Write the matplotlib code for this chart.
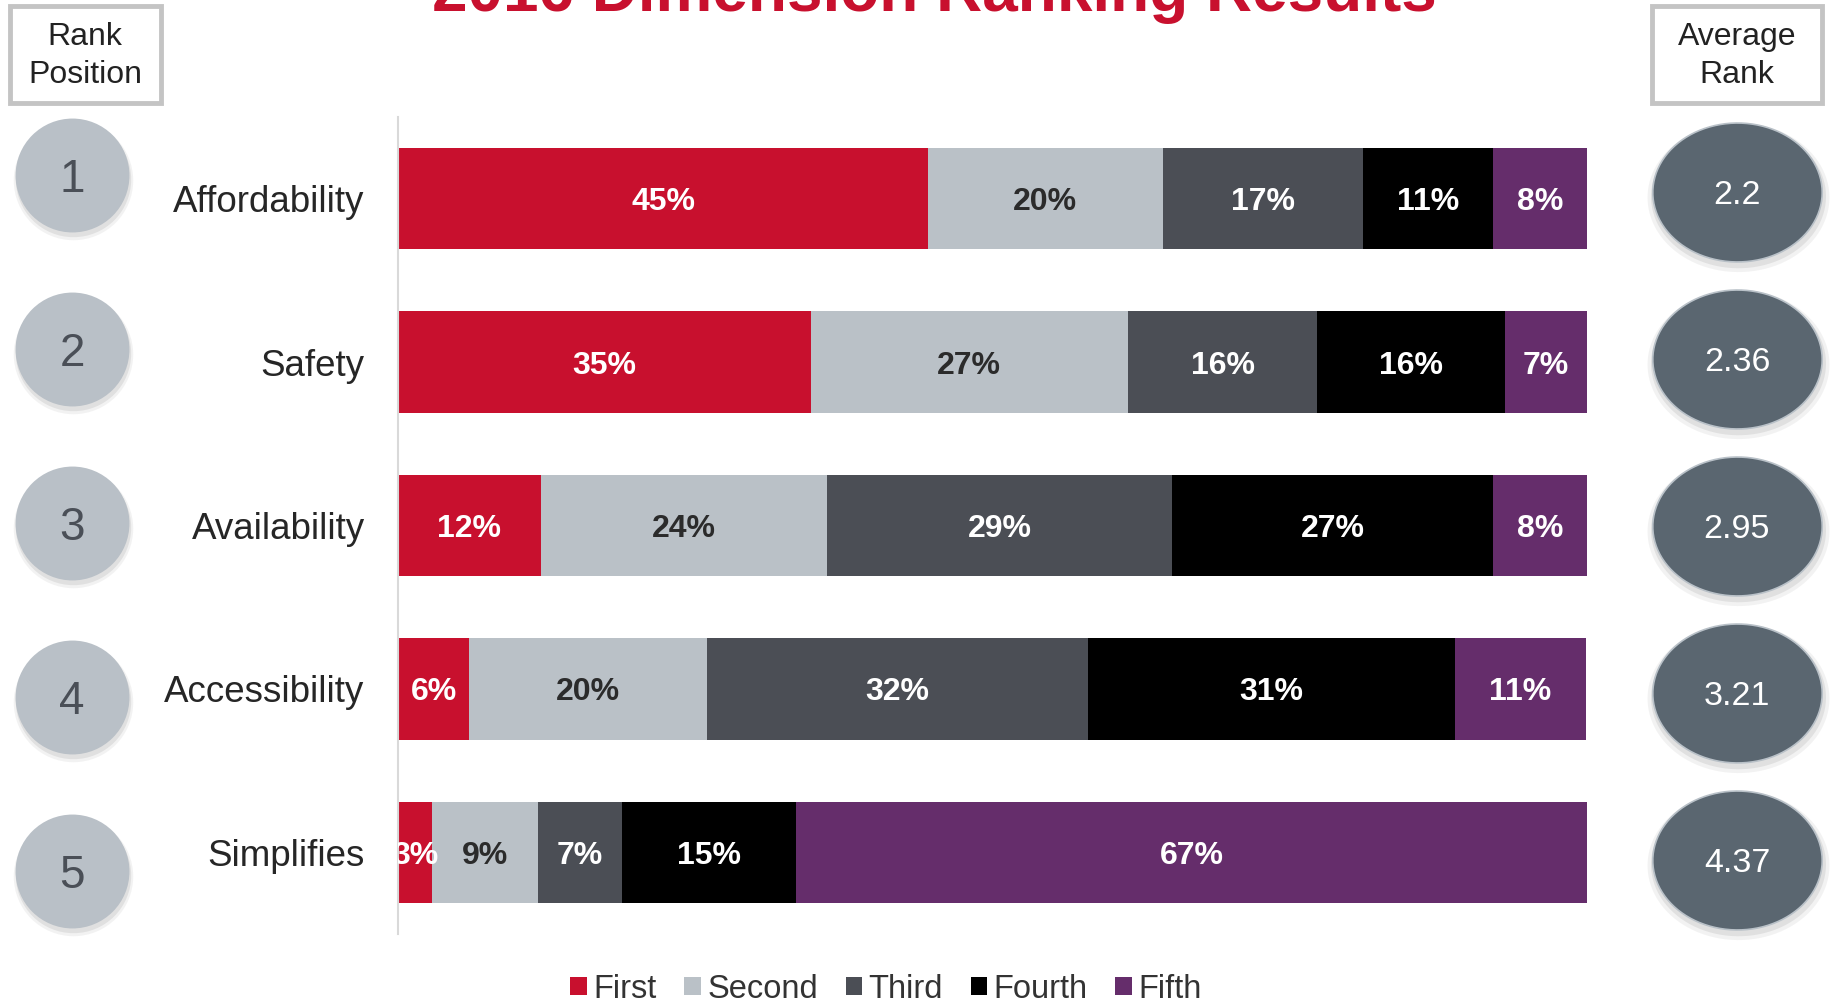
import numpy as np
import matplotlib.pyplot as plt
from matplotlib.patches import Rectangle
from matplotlib.transforms import offset_copy

plt.rcParams['font.family'] = ['Liberation Sans', 'DejaVu Sans']

categories = ['Affordability', 'Safety', 'Availability', 'Accessibility', 'Simplifies']
series = ['First', 'Second', 'Third', 'Fourth', 'Fifth']
first = [44.6, 34.7, 12.0, 6.0, 2.9]
second = [19.7, 26.7, 24.1, 20.0, 8.9]
third = [16.9, 15.9, 29.0, 32.0, 7.0]
fourth = [10.9, 15.8, 27.0, 30.9, 14.7]
fifth = [7.9, 6.9, 8.0, 11.0, 66.6]
rank_position = [1, 2, 3, 4, 5]
average_rank = ['2.2', '2.36', '2.95', '3.21', '4.37']

colors = ['#c8102e', '#bac1c7', '#4b4e55', '#000000', '#652d6b']
label_colors = ['white', '#2b2b2b', 'white', 'white', 'white']

W, H = 1831, 1006
fig = plt.figure(figsize=(W / 100, H / 100), dpi=100)


def frac(x0, y0, x1, y1):
    # pixel box (top-left origin) -> figure fraction rect
    return [x0 / W, 1 - y1 / H, (x1 - x0) / W, (y1 - y0) / H]


# stacked bars
ax = fig.add_axes(frac(398, 117, 1587, 934))
values = np.array([first, second, third, fourth, fifth])
ypos = np.arange(len(categories))
left = np.zeros(len(categories))
for i, name in enumerate(series):
    bars = ax.barh(ypos, values[i], left=left, height=0.62,
                   color=colors[i], label=name)
    for b, v in zip(bars, values[i]):
        ax.text(b.get_x() + b.get_width() / 2, b.get_y() + b.get_height() / 2,
                f'{v:.0f}%', ha='center', va='center_baseline', fontsize=23,
                fontweight='bold', color=label_colors[i], clip_on=True)
    left += values[i]

ax.set_xlim(0, 100)
ax.set_ylim(4.5, -0.5)
ax.set_xticks([])
ax.set_yticks(ypos, categories, fontsize=26.5, color='#262626')
ax.tick_params(axis='y', length=0, pad=24)
for s in ['top', 'right', 'bottom']:
    ax.spines[s].set_visible(False)
ax.spines['left'].set_color('#d9d9d9')
ax.spines['left'].set_linewidth(1.5)

# rank position circles
axc = fig.add_axes(frac(22, 88, 122, 958))
axc.set_xlim(0, 1)
axc.set_ylim(4.5, -0.5)
axc.axis('off')
for dx, dy, a, s in [(1, -5, 0.08, 7400), (1, -4, 0.12, 6900)]:
    axc.scatter([0.5] * 5, ypos, s=s, color='#606060', alpha=a, linewidths=0,
                clip_on=False,
                transform=offset_copy(axc.transData, fig, x=dx, y=dy, units='dots'))
axc.scatter([0.5] * 5, ypos, s=6724, color='#b9c0c7', linewidths=0, zorder=3,
            clip_on=False)
for y, r in zip(ypos, rank_position):
    axc.text(0.5, y, str(r), ha='center', va='center_baseline', fontsize=33,
             color='#4a4f57', zorder=4)

# average rank ellipses
t = np.linspace(0, 2 * np.pi, 100)
ellipse = np.column_stack([np.cos(t), 0.82 * np.sin(t)])
axe = fig.add_axes(frac(1687, 108, 1787, 944))
axe.set_xlim(0, 1)
axe.set_ylim(4.5, -0.5)
axe.axis('off')
for dx, dy, a, s in [(1, -5, 0.08, 131 ** 2), (1, -4, 0.12, 126 ** 2)]:
    axe.scatter([0.5] * 5, ypos, s=s, marker=ellipse, color='#606060', alpha=a,
                linewidths=0, clip_on=False,
                transform=offset_copy(axe.transData, fig, x=dx, y=dy, units='dots'))
axe.scatter([0.5] * 5, ypos, s=122 ** 2, marker=ellipse, color='#5a6670',
            edgecolors='#b9c1c8', linewidths=1.2, zorder=3, clip_on=False)
for y, r in zip(ypos, average_rank):
    axe.text(0.5, y, r, ha='center', va='center_baseline', fontsize=24.5,
             color='white', zorder=4)

# header boxes
ov = fig.add_axes([0, 0, 1, 1], zorder=-1)
ov.set_xlim(0, W)
ov.set_ylim(H, 0)
ov.axis('off')
ov.add_patch(Rectangle((10, 6), 151, 97, facecolor='white',
                       edgecolor='#c4c4c4', linewidth=3.5))
ov.add_patch(Rectangle((1652, 6), 170, 97, facecolor='white',
                       edgecolor='#c4c4c4', linewidth=3.5))
ov.text(85, 56, 'Rank\nPosition', ha='center', va='center', fontsize=23,
        color='#222222', linespacing=1.35)
ov.text(1737, 56, 'Average\nRank', ha='center', va='center', fontsize=23,
        color='#222222', linespacing=1.35)

fig.text(934 / W, 1 - 11 / H, '2016 Dimension Ranking Results', ha='center',
         va='baseline', fontsize=46, fontweight='bold', color='#c8102e')

fig.legend(*ax.get_legend_handles_labels(), loc='center',
           bbox_to_anchor=(886 / W, 1 - 989 / H), ncol=5, frameon=False,
           fontsize=23.5, handlelength=0.5, handleheight=0.5, handletextpad=0.2,
           columnspacing=0.85, labelcolor='#333333', borderpad=0)

fig.savefig('out.png', dpi=100)
